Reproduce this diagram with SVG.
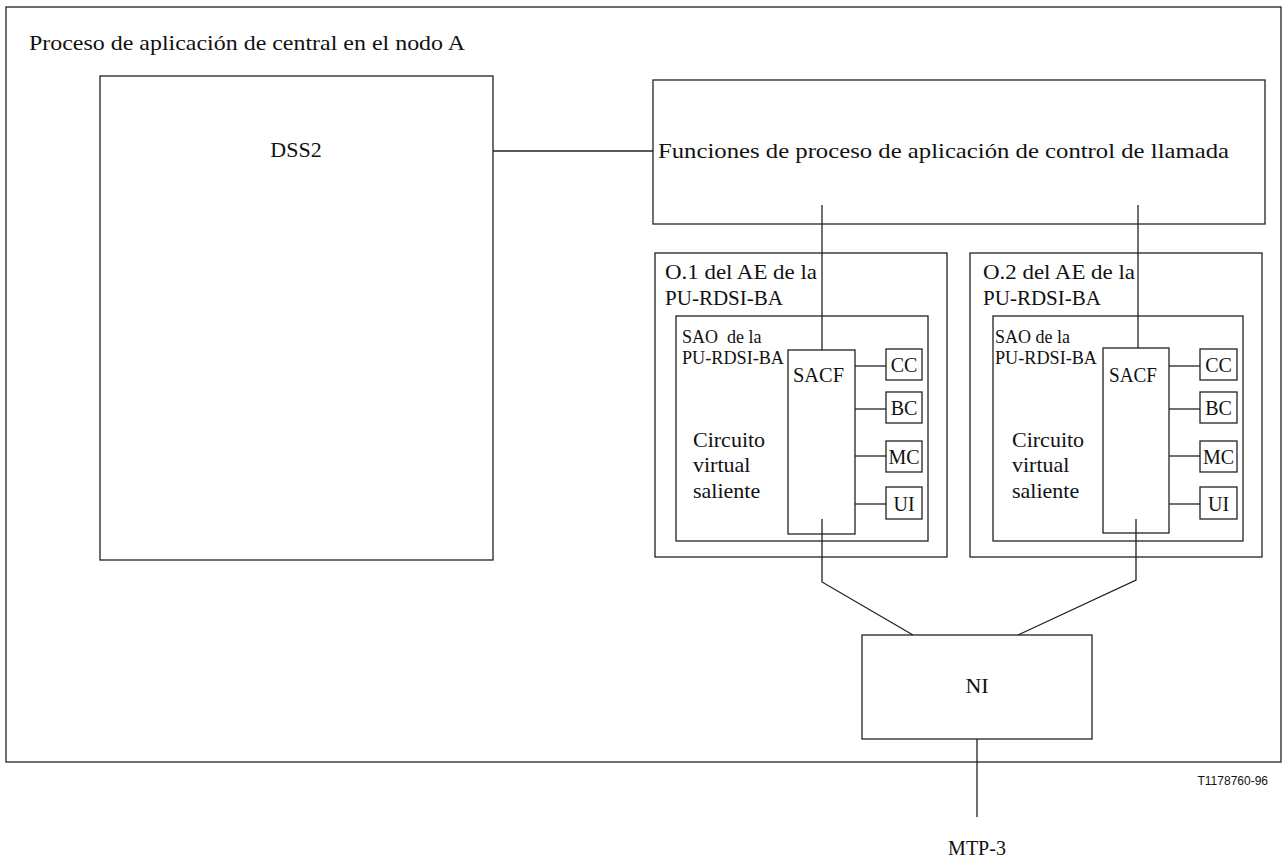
<svg xmlns="http://www.w3.org/2000/svg" width="1287" height="861" viewBox="0 0 1287 861" font-family="'Liberation Serif', 'Times New Roman', serif">
<style>
rect{fill:#fff;stroke:#222;stroke-width:1.3}
.c line,.c polyline{stroke:#222;stroke-width:1.3;fill:none}
text{font-family:'Liberation Serif','Times New Roman',serif;fill:#111}
.t22{font-size:22px;font-family:'Liberation Serif',serif}
.t20{font-size:20px;font-family:'Liberation Serif',serif}
.t18{font-size:18px;font-family:'Liberation Serif',serif}
.m{text-anchor:middle}
</style>
<rect x="0" y="0" width="1287" height="861" style="stroke:none"/>
<g id="frame">
<rect x="6" y="7" width="1275" height="755"/>
<text class="t22" x="29" y="50" textLength="436" lengthAdjust="spacingAndGlyphs">Proceso de aplicación de central en el nodo A</text>
</g>
<g id="dss2">
<rect x="100" y="76" width="393" height="484"/>
<text class="t22 m" x="296" y="157" font-family="Liberation Serif">DSS2</text>
</g>
<g id="funciones">
<rect x="653" y="80" width="612" height="144"/>
<text class="t22" x="658" y="158" textLength="571" lengthAdjust="spacingAndGlyphs" font-family="Liberation Serif">Funciones de proceso de aplicación de control de llamada</text>
</g>
<g id="o1">
<rect x="655" y="253" width="292" height="304"/>
<text class="t22" x="665" y="279" textLength="152" lengthAdjust="spacingAndGlyphs">O.1 del AE de la</text>
<text class="t22" x="665" y="305" textLength="118" lengthAdjust="spacingAndGlyphs">PU-RDSI-BA</text>
</g>
<g id="sao1">
<rect x="676" y="316" width="252" height="225"/>
<text class="t18" x="682" y="343" xml:space="preserve">SAO  de la</text>
<text class="t18" x="682" y="364" textLength="102" lengthAdjust="spacingAndGlyphs">PU-RDSI-BA</text>
<text class="t22" x="693" y="447" font-family="Liberation Serif">Circuito</text>
<text class="t22" x="693" y="472" font-family="Liberation Serif">virtual</text>
<text class="t22" x="693" y="498" font-family="Liberation Serif">saliente</text>
</g>
<g id="sacf1">
<rect x="788" y="350" width="67" height="184"/>
<text class="t20" x="793" y="382" textLength="51" lengthAdjust="spacingAndGlyphs" font-family="Liberation Serif">SACF</text>
</g>
<g id="cc1"><rect x="886" y="349" width="36" height="31"/><text class="t20 m" x="904" y="372">CC</text></g>
<g id="bc1"><rect x="886" y="392" width="36" height="31"/><text class="t20 m" x="904" y="415">BC</text></g>
<g id="mc1"><rect x="886" y="441" width="36" height="31"/><text class="t20 m" x="904" y="464">MC</text></g>
<g id="ui1"><rect x="886" y="487" width="36" height="32"/><text class="t20 m" x="904" y="511">UI</text></g>
<g id="o2">
<rect x="970" y="253" width="292" height="304"/>
<text class="t22" x="983" y="279" textLength="152" lengthAdjust="spacingAndGlyphs">O.2 del AE de la</text>
<text class="t22" x="983" y="305" textLength="118" lengthAdjust="spacingAndGlyphs">PU-RDSI-BA</text>
</g>
<g id="sao2">
<rect x="993" y="316" width="250" height="225"/>
<text class="t18" x="995" y="343">SAO de la</text>
<text class="t18" x="995" y="364" textLength="102" lengthAdjust="spacingAndGlyphs">PU-RDSI-BA</text>
<text class="t22" x="1012" y="447" font-family="Liberation Serif">Circuito</text>
<text class="t22" x="1012" y="472" font-family="Liberation Serif">virtual</text>
<text class="t22" x="1012" y="498" font-family="Liberation Serif">saliente</text>
</g>
<g id="sacf2">
<rect x="1103" y="348" width="66" height="185"/>
<text class="t20" x="1109" y="382" textLength="48" lengthAdjust="spacingAndGlyphs" font-family="Liberation Serif">SACF</text>
</g>
<g id="cc2"><rect x="1200" y="349" width="37" height="31"/><text class="t20 m" x="1218.5" y="372">CC</text></g>
<g id="bc2"><rect x="1200" y="392" width="37" height="31"/><text class="t20 m" x="1218.5" y="415">BC</text></g>
<g id="mc2"><rect x="1200" y="441" width="37" height="31"/><text class="t20 m" x="1218.5" y="464">MC</text></g>
<g id="ui2"><rect x="1200" y="487" width="37" height="32"/><text class="t20 m" x="1218.5" y="511">UI</text></g>
<g id="ni">
<rect x="862" y="635" width="230" height="104"/>
<text class="t22 m" x="977" y="693" font-family="Liberation Serif">NI</text>
</g>
<g id="mtp3">
<text class="t20 m" x="977" y="855">MTP-3</text>
</g>
<g id="connectors" class="c">
<line x1="493" y1="151" x2="653" y2="151"/>
<line x1="822" y1="205" x2="822" y2="350"/>
<line x1="1138" y1="205" x2="1138" y2="348"/>
<polyline points="822,519 822,582 913,635"/>
<polyline points="1136,519 1136,580 1018,635"/>
<line x1="855" y1="366" x2="886" y2="366"/>
<line x1="855" y1="409" x2="886" y2="409"/>
<line x1="855" y1="456" x2="886" y2="456"/>
<line x1="855" y1="504" x2="886" y2="504"/>
<line x1="1169" y1="366" x2="1200" y2="366"/>
<line x1="1169" y1="409" x2="1200" y2="409"/>
<line x1="1169" y1="456" x2="1200" y2="456"/>
<line x1="1169" y1="504" x2="1200" y2="504"/>
<line x1="977" y1="739" x2="977" y2="817"/>
</g>
<text x="1268" y="785" style="font-family:'Liberation Sans',Arial,sans-serif;font-size:12px;text-anchor:end">T1178760-96</text>
</svg>
